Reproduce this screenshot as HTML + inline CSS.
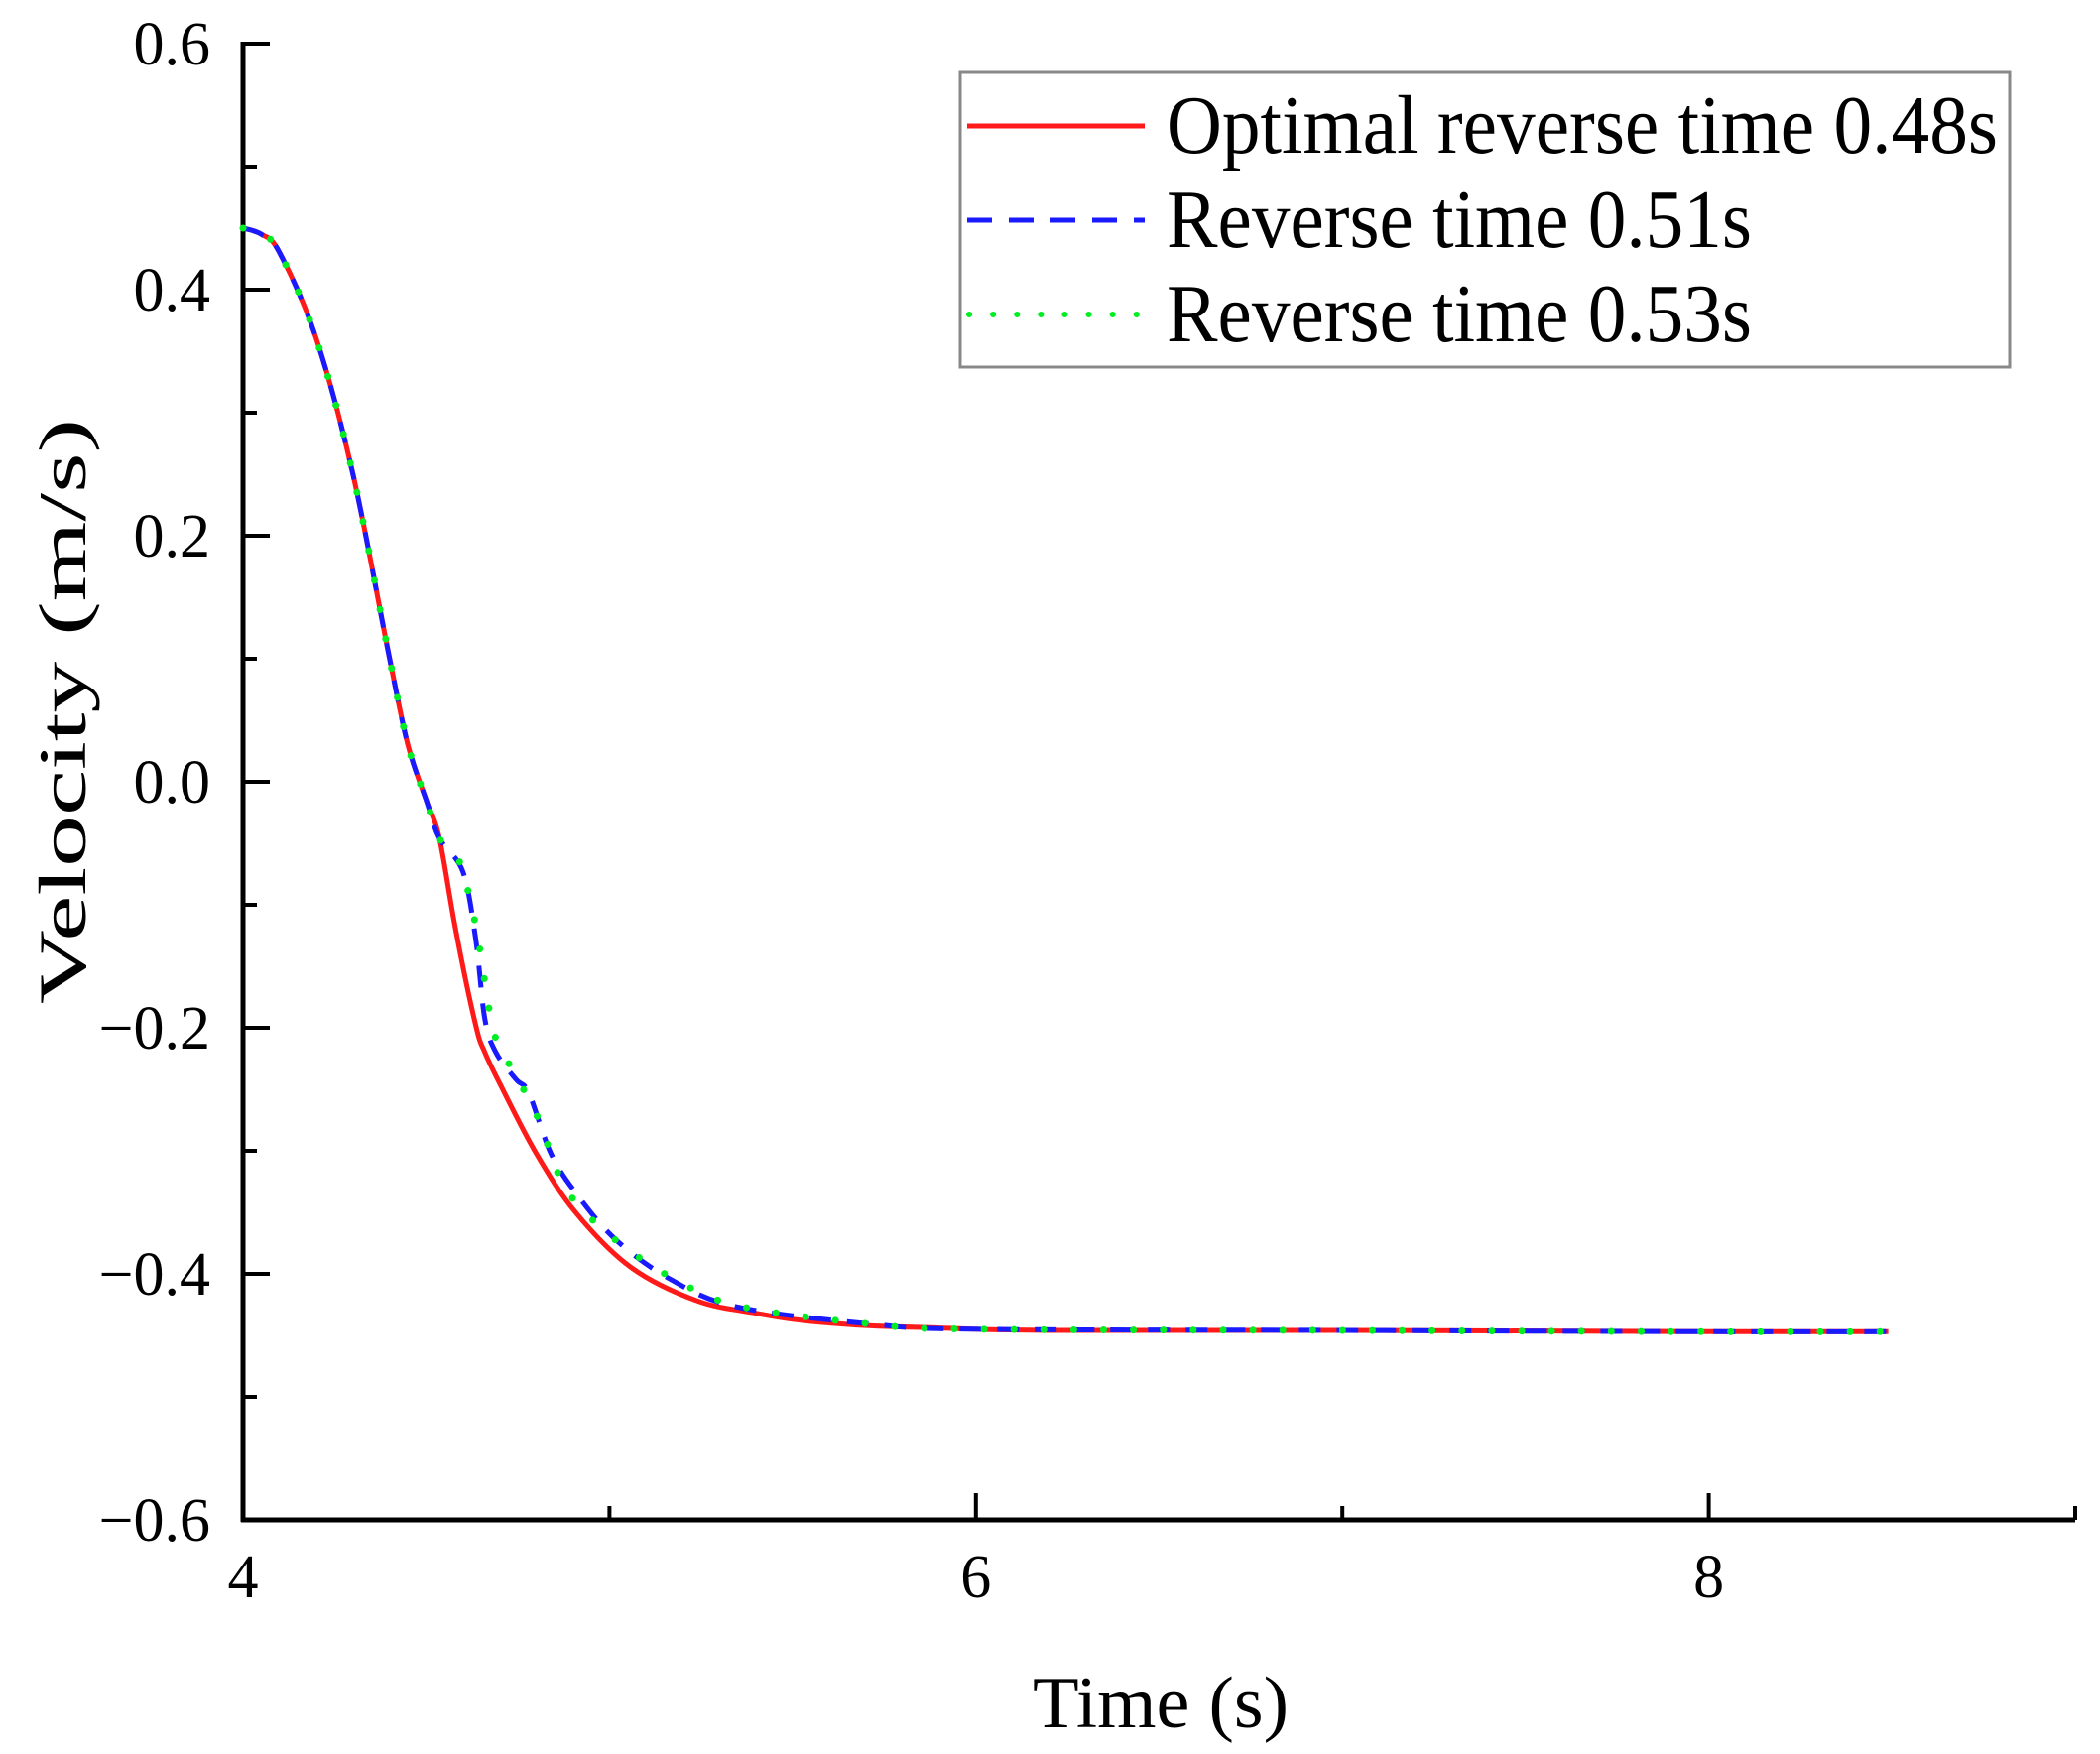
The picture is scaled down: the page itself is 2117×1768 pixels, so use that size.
<!DOCTYPE html>
<html><head><meta charset="utf-8"><style>
html,body{margin:0;padding:0;background:#fff;}
svg{display:block;font-family:"Liberation Serif",serif;}
</style></head><body>
<svg id="chart" width="2117" height="1768" viewBox="0 0 2117 1768" xmlns="http://www.w3.org/2000/svg">
<g id="axes"></g>
<g id="series"></g>
<g id="legend">
  <rect x="968" y="73" width="1058" height="297" fill="#fff" stroke="#888" stroke-width="3"/>
  <line x1="975" y1="127" x2="1154" y2="127" stroke="#ff1a1a" stroke-width="5"/>
  <text x="1176" y="154" font-size="84" textLength="838" lengthAdjust="spacingAndGlyphs">Optimal reverse time 0.48s</text>
  <line x1="975" y1="222" x2="1154" y2="222" stroke="#1a1aff" stroke-width="5" stroke-dasharray="25,17"/>
  <text x="1176" y="249" font-size="84" textLength="590" lengthAdjust="spacingAndGlyphs">Reverse time 0.51s</text>
  <line x1="977" y1="317" x2="1154" y2="317" stroke="#00ee22" stroke-width="6" stroke-dasharray="0.1,24" stroke-linecap="round"/>
  <text x="1176" y="344" font-size="84" textLength="590" lengthAdjust="spacingAndGlyphs">Reverse time 0.53s</text>
</g>
</svg>
<script>
const xTicks = [4, 6, 8];
const xMinor = [5, 7, 9];
const yTicks = [0.6, 0.4, 0.2, 0.0, -0.2, -0.4, -0.6];
const yTickLabels = ["0.6", "0.4", "0.2", "0.0", "\u22120.2", "\u22120.4", "\u22120.6"];
const yMinor = [0.5, 0.3, 0.1, -0.1, -0.3, -0.5];

const optX = [4.0, 4.05, 4.1, 4.2, 4.3, 4.4, 4.45, 4.5, 4.536, 4.58, 4.635, 4.66, 4.7, 4.8, 4.91, 5.06, 5.24, 5.4, 5.53, 5.7, 5.9, 6.2, 7.0, 8.0, 8.49];
const optY = [0.45, 0.445, 0.43, 0.36, 0.25, 0.1, 0.03, -0.015, -0.046, -0.12, -0.198, -0.22, -0.245, -0.302, -0.351, -0.395, -0.422, -0.432, -0.438, -0.442, -0.444, -0.446, -0.446, -0.447, -0.447];
const r51X = [4.0, 4.05, 4.1, 4.2, 4.3, 4.4, 4.45, 4.5, 4.536, 4.6, 4.635, 4.66, 4.69, 4.745, 4.78, 4.84, 4.91, 5.02, 5.17, 5.35, 5.72, 6.0, 7.0, 8.0, 8.49];
const r51Y = [0.45, 0.445, 0.43, 0.36, 0.25, 0.1, 0.03, -0.015, -0.046, -0.073, -0.128, -0.193, -0.22, -0.242, -0.253, -0.302, -0.335, -0.373, -0.405, -0.427, -0.441, -0.445, -0.446, -0.447, -0.447];
const r53X = [4.0, 4.05, 4.1, 4.2, 4.3, 4.4, 4.45, 4.5, 4.536, 4.587, 4.635, 4.68, 4.72, 4.8, 4.87, 4.95, 5.05, 5.17, 5.35, 5.72, 6.0, 7.0, 8.0, 8.49];
const r53Y = [0.45, 0.445, 0.43, 0.36, 0.25, 0.1, 0.03, -0.015, -0.046, -0.062, -0.117, -0.198, -0.226, -0.27, -0.325, -0.355, -0.38, -0.403, -0.426, -0.441, -0.445, -0.446, -0.447, -0.447];

const NS = "http://www.w3.org/2000/svg";
const L = 245, R = 2092, T = 44, B = 1532;
const xMin = 4, xMax = 9, yMin = -0.6, yMax = 0.6;
function sx(v){ return L + (v - xMin) / (xMax - xMin) * (R - L); }
function sy(v){ return B - (v - yMin) / (yMax - yMin) * (B - T); }
function mk(tag, attrs, parent){
  const e = document.createElementNS(NS, tag);
  for (const k in attrs) e.setAttribute(k, attrs[k]);
  parent.appendChild(e);
  return e;
}
const axes = document.getElementById('axes');
let e;
e = mk('line', {x1:L, y1:T-2, x2:L, y2:B+2, stroke:'#000', 'stroke-width':5}, axes);


e = mk('line', {x1:L-2, y1:B, x2:R, y2:B, stroke:'#000', 'stroke-width':5}, axes);



xTicks.forEach(function(v){
  const t = mk('line', {x1:sx(v), y1:B, x2:sx(v), y2:B-27, stroke:'#000', 'stroke-width':4}, axes);
  
  
  const lb = mk('text', {x:sx(v), y:1610, 'font-size':62, 'text-anchor':'middle'}, axes);
  lb.textContent = String(v);
  
  
});
xMinor.forEach(function(v){
  const t = mk('line', {x1:sx(v), y1:B, x2:sx(v), y2:B-14, stroke:'#000', 'stroke-width':4}, axes);
  
  
});
yTicks.forEach(function(v, i){
  const t = mk('line', {x1:L, y1:sy(v), x2:L+27, y2:sy(v), stroke:'#000', 'stroke-width':4}, axes);
  
  
  const lb = mk('text', {x:212, y:sy(v)+21, 'font-size':62, 'text-anchor':'end'}, axes);
  lb.textContent = yTickLabels[i];
  
  
});
yMinor.forEach(function(v){
  const t = mk('line', {x1:L, y1:sy(v), x2:L+14, y2:sy(v), stroke:'#000', 'stroke-width':4}, axes);
  
  
});
e = mk('text', {x:1170, y:1741, 'font-size':74, 'text-anchor':'middle', textLength:258, lengthAdjust:'spacingAndGlyphs'}, axes);
e.textContent = 'Time (s)';


e = mk('text', {x:0, y:0, 'font-size':68, 'text-anchor':'middle', transform:'translate(86,717) rotate(-90)', textLength:590, lengthAdjust:'spacingAndGlyphs'}, axes);
e.textContent = 'Velocity (m/s)';



const series = document.getElementById('series');
function pathD(xs, ys){
  const p = xs.map(function(x, i){ return [sx(x), sy(ys[i])]; });
  let d = 'M' + p[0][0].toFixed(1) + ',' + p[0][1].toFixed(1);
  for (let i = 0; i < p.length - 1; i++) {
    const p0 = p[Math.max(0, i - 1)], p1 = p[i], p2 = p[i + 1], p3 = p[Math.min(p.length - 1, i + 2)];
    const c1x = p1[0] + (p2[0] - p0[0]) / 6, c1y = p1[1] + (p2[1] - p0[1]) / 6;
    const c2x = p2[0] - (p3[0] - p1[0]) / 6, c2y = p2[1] - (p3[1] - p1[1]) / 6;
    d += ' C' + c1x.toFixed(1) + ',' + c1y.toFixed(1) + ' ' + c2x.toFixed(1) + ',' + c2y.toFixed(1) + ' ' + p2[0].toFixed(1) + ',' + p2[1].toFixed(1);
  }
  return d;
}
e = mk('path', {d:pathD(optX, optY), fill:'none', stroke:'#ff1a1a', 'stroke-width':5, 'stroke-linejoin':'round'}, series);


e = mk('path', {d:pathD(r51X, r51Y), fill:'none', stroke:'#1a1aff', 'stroke-width':5, 'stroke-dasharray':'22,16', 'stroke-linejoin':'round'}, series);


e = mk('path', {d:pathD(r53X, r53Y), fill:'none', stroke:'#00ee22', 'stroke-width':7, 'stroke-dasharray':'0.1,30', 'stroke-linecap':'round'}, series);


</script>
</body></html>
